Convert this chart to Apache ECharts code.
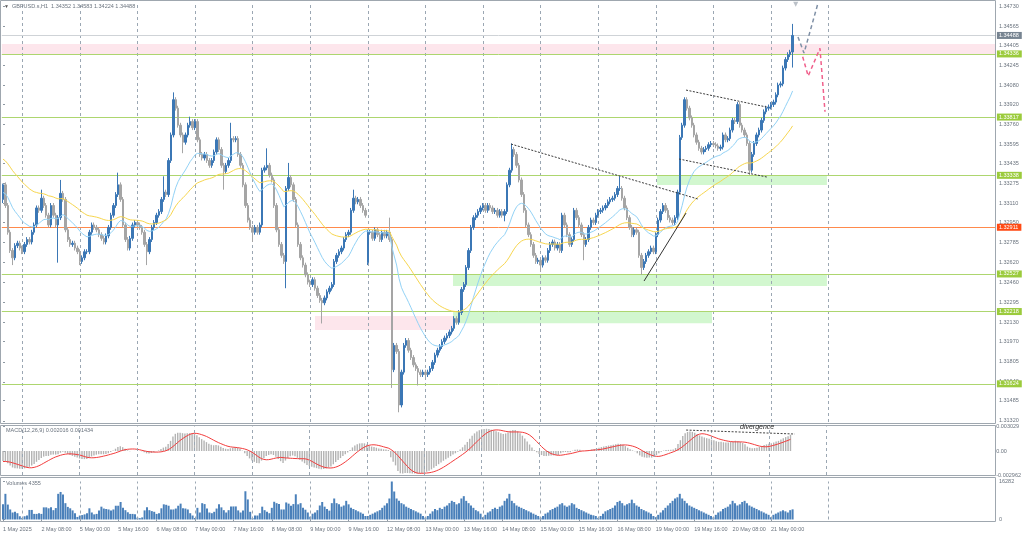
<!DOCTYPE html>
<html><head><meta charset="utf-8">
<script src="https://cdn.jsdelivr.net/npm/echarts@6/dist/echarts.min.js"></script>
<style>html,body{margin:0;padding:0;background:#fff}#c{width:1024px;height:537px}</style>
</head><body><div id="c"></div>
<script>
// ---------- DATA (GBPUSD.s H1, 1 May 16:00 .. 21 May 09:00) ----------
const opens = [1.3314,1.3326,1.3309,1.3287,1.3272,1.3266,1.3276,1.3278,1.3274,1.3271,
1.3277,1.3281,1.3279,1.3287,1.3293,1.3307,1.3305,1.3315,1.3309,1.3301,
1.3293,1.3309,1.3301,1.3293,1.3299,1.3319,1.3314,1.3289,1.3281,1.3277,
1.3278,1.3274,1.3271,1.3263,1.3266,1.3271,1.3271,1.3287,1.3293,1.3291,
1.3289,1.3285,1.3282,1.3279,1.3284,1.3291,1.3301,1.3309,1.3318,1.3326,
1.3314,1.3293,1.3281,1.3274,1.3282,1.3293,1.3295,1.3293,1.3291,1.3287,
1.3277,1.3271,1.3281,1.3291,1.3295,1.3301,1.3304,1.3314,1.3320,1.3318,
1.3346,1.3367,1.3396,1.3389,1.3375,1.3367,1.3361,1.3367,1.3375,1.3378,
1.3373,1.3378,1.3363,1.3351,1.3348,1.3351,1.3346,1.3342,1.3346,1.3353,
1.3363,1.3355,1.3342,1.3337,1.3342,1.3346,1.3364,1.3363,1.3364,1.3351,
1.3342,1.3326,1.3309,1.3297,1.3291,1.3287,1.3291,1.3287,1.3293,1.3338,
1.3340,1.3342,1.3334,1.3330,1.3309,1.3289,1.3277,1.3268,1.3263,1.3323,
1.3332,1.3326,1.3314,1.3293,1.3277,1.3266,1.3260,1.3252,1.3246,1.3244,
1.3248,1.3241,1.3235,1.3231,1.3229,1.3233,1.3238,1.3241,1.3244,1.3263,
1.3268,1.3271,1.3274,1.3281,1.3285,1.3287,1.3305,1.3315,1.3312,1.3314,
1.3309,1.3305,1.3262,1.3287,1.3287,1.3282,1.3289,1.3285,1.3281,1.3287,
1.3284,1.3287,1.3281,1.3174,1.3194,1.3189,1.3145,1.3172,1.3194,1.3198,
1.3190,1.3184,1.3178,1.3175,1.3172,1.3170,1.3172,1.3170,1.3172,1.3175,
1.3180,1.3186,1.3190,1.3193,1.3197,1.3200,1.3202,1.3205,1.3208,1.3216,
1.3213,1.3221,1.3240,1.3244,1.3258,1.3272,1.3291,1.3299,1.3301,1.3304,
1.3307,1.3309,1.3305,1.3309,1.3307,1.3304,1.3305,1.3301,1.3304,1.3301,
1.3304,1.3326,1.3338,1.3355,1.3351,1.3342,1.3330,1.3318,1.3305,1.3293,
1.3285,1.3277,1.3268,1.3263,1.3264,1.3260,1.3266,1.3264,1.3272,1.3277,
1.3279,1.3274,1.3277,1.3272,1.3301,1.3293,1.3285,1.3277,1.3281,1.3305,
1.3299,1.3293,1.3285,1.3277,1.3281,1.3291,1.3297,1.3295,1.3301,1.3304,
1.3305,1.3307,1.3309,1.3312,1.3314,1.3315,1.3318,1.3323,1.3323,1.3315,
1.3307,1.3299,1.3291,1.3285,1.3289,1.3287,1.3268,1.3258,1.3263,1.3268,
1.3271,1.3274,1.3271,1.3285,1.3297,1.3304,1.3309,1.3305,1.3299,1.3297,
1.3295,1.3299,1.3320,1.3365,1.3375,1.3396,1.3389,1.3381,1.3375,1.3367,
1.3361,1.3356,1.3353,1.3355,1.3356,1.3359,1.3360,1.3359,1.3358,1.3356,
1.3357,1.3367,1.3363,1.3364,1.3371,1.3379,1.3378,1.3392,1.3375,1.3371,
1.3367,1.3360,1.3338,1.3351,1.3360,1.3367,1.3371,1.3379,1.3386,1.3389,
1.3390,1.3392,1.3394,1.3400,1.3408,1.3409,1.3422,1.3429,1.3433,1.34352];

const closes = [1.3326,1.3309,1.3287,1.3272,1.3266,1.3276,1.3278,1.3274,1.3271,1.3277,
1.3281,1.3279,1.3287,1.3293,1.3307,1.3305,1.3315,1.3309,1.3301,1.3293,
1.3309,1.3301,1.3293,1.3299,1.3319,1.3314,1.3289,1.3281,1.3277,1.3278,
1.3274,1.3271,1.3263,1.3266,1.3271,1.3271,1.3287,1.3293,1.3291,1.3289,
1.3285,1.3282,1.3279,1.3284,1.3291,1.3301,1.3309,1.3318,1.3326,1.3314,
1.3293,1.3281,1.3274,1.3282,1.3293,1.3295,1.3293,1.3291,1.3287,1.3277,
1.3271,1.3281,1.3291,1.3295,1.3301,1.3304,1.3314,1.3320,1.3318,1.3346,
1.3367,1.3396,1.3389,1.3375,1.3367,1.3361,1.3367,1.3375,1.3378,1.3373,
1.3378,1.3363,1.3351,1.3348,1.3351,1.3346,1.3342,1.3346,1.3353,1.3363,
1.3355,1.3342,1.3337,1.3342,1.3346,1.3364,1.3363,1.3364,1.3351,1.3342,
1.3326,1.3309,1.3297,1.3291,1.3287,1.3291,1.3287,1.3293,1.3338,1.3340,
1.3342,1.3334,1.3330,1.3309,1.3289,1.3277,1.3268,1.3263,1.3323,1.3332,
1.3326,1.3314,1.3293,1.3277,1.3266,1.3260,1.3252,1.3246,1.3244,1.3248,
1.3241,1.3235,1.3231,1.3229,1.3233,1.3238,1.3241,1.3244,1.3263,1.3268,
1.3271,1.3274,1.3281,1.3285,1.3287,1.3305,1.3315,1.3312,1.3314,1.3309,
1.3305,1.3301,1.3287,1.3287,1.3282,1.3289,1.3285,1.3281,1.3287,1.3284,
1.3287,1.3281,1.3174,1.3194,1.3189,1.3145,1.3172,1.3194,1.3198,1.3190,
1.3184,1.3178,1.3175,1.3172,1.3170,1.3172,1.3170,1.3172,1.3175,1.3180,
1.3186,1.3190,1.3193,1.3197,1.3200,1.3202,1.3205,1.3208,1.3216,1.3213,
1.3221,1.3240,1.3244,1.3258,1.3272,1.3291,1.3299,1.3301,1.3304,1.3307,
1.3309,1.3305,1.3309,1.3307,1.3304,1.3305,1.3301,1.3304,1.3301,1.3304,
1.3326,1.3338,1.3355,1.3351,1.3342,1.3330,1.3318,1.3305,1.3293,1.3285,
1.3277,1.3268,1.3263,1.3264,1.3260,1.3266,1.3264,1.3272,1.3277,1.3279,
1.3274,1.3277,1.3272,1.3301,1.3293,1.3285,1.3277,1.3281,1.3305,1.3299,
1.3293,1.3285,1.3277,1.3281,1.3291,1.3297,1.3295,1.3301,1.3304,1.3305,
1.3307,1.3309,1.3312,1.3314,1.3315,1.3318,1.3323,1.3323,1.3315,1.3307,
1.3299,1.3291,1.3285,1.3289,1.3287,1.3268,1.3258,1.3263,1.3268,1.3271,
1.3274,1.3271,1.3285,1.3297,1.3304,1.3309,1.3305,1.3299,1.3297,1.3295,
1.3299,1.3320,1.3365,1.3375,1.3396,1.3389,1.3381,1.3375,1.3367,1.3361,
1.3356,1.3353,1.3355,1.3356,1.3359,1.3360,1.3359,1.3358,1.3356,1.3357,
1.3367,1.3363,1.3364,1.3371,1.3379,1.3378,1.3392,1.3375,1.3371,1.3367,
1.3360,1.3338,1.3351,1.3360,1.3367,1.3371,1.3379,1.3386,1.3389,1.3390,
1.3392,1.3394,1.3400,1.3408,1.3409,1.3422,1.3429,1.3433,1.34352,1.34488];

const highs = [1.3327,1.3328,1.3311,1.3289,1.3274,1.3278,1.3280,1.3280,1.3276,1.3279,
1.3283,1.3283,1.3289,1.3295,1.3309,1.3309,1.3322,1.3317,1.3311,1.3303,
1.3311,1.3311,1.3303,1.3301,1.3330,1.3321,1.3316,1.3291,1.3283,1.3280,
1.3280,1.3276,1.3273,1.3268,1.3273,1.3273,1.3289,1.3295,1.3295,1.3293,
1.3291,1.3287,1.3284,1.3286,1.3293,1.3303,1.3311,1.3320,1.3336,1.3328,
1.3316,1.3295,1.3283,1.3284,1.3295,1.3297,1.3297,1.3295,1.3293,1.3289,
1.3279,1.3283,1.3293,1.3297,1.3303,1.3306,1.3316,1.3333,1.3322,1.3348,
1.3369,1.3402,1.3398,1.3391,1.3377,1.3369,1.3369,1.3377,1.3382,1.3380,
1.3380,1.3380,1.3365,1.3353,1.3353,1.3353,1.3348,1.3348,1.3355,1.3365,
1.3365,1.3357,1.3344,1.3344,1.3348,1.3377,1.3366,1.3366,1.3366,1.3353,
1.3344,1.3328,1.3311,1.3299,1.3293,1.3293,1.3293,1.3295,1.3340,1.3342,
1.3356,1.3344,1.3336,1.3332,1.3311,1.3291,1.3279,1.3270,1.3325,1.3344,
1.3334,1.3328,1.3316,1.3295,1.3279,1.3268,1.3262,1.3254,1.3248,1.3250,
1.3250,1.3243,1.3237,1.3233,1.3235,1.3240,1.3243,1.3246,1.3265,1.3270,
1.3273,1.3276,1.3283,1.3287,1.3289,1.3307,1.3322,1.3317,1.3316,1.3316,
1.3311,1.3307,1.3289,1.3289,1.3289,1.3291,1.3291,1.3287,1.3289,1.3289,
1.3289,1.3299,1.3283,1.3196,1.3196,1.3191,1.3174,1.3196,1.3200,1.3200,
1.3192,1.3186,1.3180,1.3177,1.3174,1.3174,1.3174,1.3174,1.3177,1.3182,
1.3188,1.3192,1.3195,1.3199,1.3202,1.3204,1.3207,1.3210,1.3218,1.3218,
1.3223,1.3242,1.3246,1.3260,1.3274,1.3293,1.3301,1.3303,1.3306,1.3309,
1.3311,1.3311,1.3311,1.3311,1.3309,1.3307,1.3307,1.3306,1.3306,1.3306,
1.3328,1.3340,1.3360,1.3357,1.3353,1.3344,1.3332,1.3320,1.3307,1.3295,
1.3287,1.3279,1.3270,1.3266,1.3266,1.3268,1.3268,1.3274,1.3279,1.3281,
1.3281,1.3279,1.3279,1.3303,1.3303,1.3295,1.3287,1.3283,1.3307,1.3307,
1.3301,1.3295,1.3287,1.3283,1.3293,1.3299,1.3299,1.3303,1.3306,1.3307,
1.3309,1.3311,1.3314,1.3316,1.3317,1.3320,1.3325,1.3333,1.3325,1.3317,
1.3309,1.3301,1.3293,1.3291,1.3291,1.3289,1.3270,1.3265,1.3270,1.3273,
1.3276,1.3276,1.3287,1.3299,1.3306,1.3311,1.3311,1.3307,1.3301,1.3299,
1.3301,1.3322,1.3367,1.3377,1.3398,1.3398,1.3391,1.3383,1.3377,1.3369,
1.3363,1.3358,1.3357,1.3358,1.3361,1.3362,1.3362,1.3361,1.3360,1.3359,
1.3369,1.3369,1.3366,1.3373,1.3381,1.3381,1.3394,1.3394,1.3377,1.3373,
1.3369,1.3362,1.3353,1.3362,1.3369,1.3373,1.3381,1.3388,1.3391,1.3392,
1.3394,1.3396,1.3402,1.3410,1.3411,1.3424,1.3431,1.3435,1.3437,1.34583];

const lows = [1.3311,1.3307,1.3285,1.3270,1.3260,1.3264,1.3274,1.3272,1.3269,1.3269,
1.3275,1.3277,1.3277,1.3285,1.3291,1.3303,1.3303,1.3307,1.3299,1.3291,
1.3291,1.3299,1.3291,1.3262,1.3297,1.3312,1.3287,1.3279,1.3275,1.3275,
1.3272,1.3269,1.3260,1.3261,1.3264,1.3269,1.3269,1.3285,1.3289,1.3287,
1.3283,1.3280,1.3277,1.3277,1.3282,1.3289,1.3299,1.3307,1.3316,1.3312,
1.3291,1.3279,1.3272,1.3272,1.3280,1.3291,1.3291,1.3289,1.3285,1.3275,
1.3260,1.3269,1.3279,1.3289,1.3293,1.3299,1.3302,1.3312,1.3316,1.3316,
1.3344,1.3365,1.3387,1.3373,1.3365,1.3352,1.3359,1.3365,1.3373,1.3371,
1.3371,1.3361,1.3349,1.3346,1.3346,1.3344,1.3340,1.3340,1.3344,1.3351,
1.3353,1.3340,1.3322,1.3335,1.3340,1.3344,1.3361,1.3361,1.3349,1.3340,
1.3324,1.3307,1.3295,1.3289,1.3279,1.3285,1.3285,1.3285,1.3291,1.3336,
1.3338,1.3332,1.3328,1.3307,1.3287,1.3275,1.3266,1.3261,1.3241,1.3321,
1.3324,1.3312,1.3291,1.3275,1.3264,1.3258,1.3250,1.3244,1.3242,1.3242,
1.3239,1.3233,1.3229,1.3212,1.3227,1.3231,1.3236,1.3239,1.3242,1.3261,
1.3266,1.3269,1.3272,1.3279,1.3283,1.3285,1.3303,1.3310,1.3310,1.3307,
1.3303,1.3299,1.3260,1.3285,1.3280,1.3280,1.3283,1.3279,1.3279,1.3282,
1.3282,1.3279,1.3159,1.3172,1.3187,1.3139,1.3143,1.3170,1.3192,1.3188,
1.3182,1.3176,1.3173,1.3161,1.3168,1.3168,1.3168,1.3168,1.3170,1.3173,
1.3178,1.3184,1.3188,1.3191,1.3195,1.3198,1.3200,1.3203,1.3206,1.3211,
1.3211,1.3219,1.3238,1.3242,1.3256,1.3270,1.3289,1.3297,1.3299,1.3302,
1.3305,1.3303,1.3303,1.3305,1.3302,1.3302,1.3299,1.3299,1.3299,1.3296,
1.3302,1.3324,1.3336,1.3349,1.3340,1.3328,1.3316,1.3303,1.3291,1.3283,
1.3275,1.3266,1.3261,1.3261,1.3255,1.3258,1.3262,1.3262,1.3270,1.3275,
1.3272,1.3272,1.3270,1.3270,1.3291,1.3283,1.3275,1.3275,1.3279,1.3297,
1.3291,1.3283,1.3264,1.3275,1.3279,1.3289,1.3293,1.3293,1.3299,1.3302,
1.3303,1.3305,1.3307,1.3310,1.3312,1.3313,1.3316,1.3321,1.3313,1.3305,
1.3297,1.3289,1.3283,1.3283,1.3285,1.3266,1.3252,1.3256,1.3261,1.3266,
1.3269,1.3269,1.3269,1.3283,1.3295,1.3302,1.3303,1.3297,1.3295,1.3293,
1.3293,1.3297,1.3318,1.3363,1.3373,1.3387,1.3379,1.3373,1.3365,1.3359,
1.3354,1.3351,1.3351,1.3353,1.3354,1.3357,1.3357,1.3356,1.3354,1.3354,
1.3355,1.3361,1.3361,1.3362,1.3369,1.3376,1.3376,1.3373,1.3369,1.3365,
1.3358,1.3334,1.3336,1.3349,1.3358,1.3365,1.3369,1.3377,1.3384,1.3387,
1.3388,1.3390,1.3392,1.3398,1.3406,1.3407,1.3420,1.3427,1.3431,1.34224];

const volumes = [6500,11000,6400,4300,3000,3300,2700,1400,700,1400,1700,4100,4100,2400,2400,2700,2400,5200,5200,4800,5200,4000,4900,11000,11800,10700,7000,5400,4800,3900,2700,1100,1700,
1900,2200,2700,4800,3000,2200,2400,3900,5500,4700,4500,4300,3900,4300,5900,5900,7500,5000,4000,3100,2400,2400,2200,800,600,900,3900,5200,4000,3600,3300,2400,2700,4800,6500,6300,5900,4300,4300,4700,5900,6800,4800,4700,4300,2700,1700,600,
5000,3000,7000,6600,4700,3000,2700,3300,4700,6500,5200,4000,3000,4000,5600,5600,5600,3900,3000,3900,12100,8600,3300,600,
1700,1700,2700,5500,4000,3300,2700,5000,7600,7000,6600,4300,4300,7300,6800,5900,6600,10800,6500,
7000,5000,4200,3000,1200,
2500,3000,4000,6000,7500,5500,4500,3800,7000,9000,7000,6500,5500,6000,8000,6500,5000,4500,4000,3500,3000,2500,1500,
1500,2000,2500,3000,3500,4000,5000,6000,7000,9000,16282,12000,9000,8000,7000,6500,5500,5000,4500,4000,3500,3000,2500,1500,
800,1500,2500,3500,4500,4000,5000,4500,5500,6000,7000,8000,7500,6500,7000,9000,10000,8000,7000,6000,5000,4000,3500,2500,
1000,2000,3000,3500,4500,5000,4500,5500,6000,8000,9000,11000,8000,7000,6000,5500,5000,4500,4000,3500,3000,2500,2000,1500,
800,1500,2500,3000,4000,4500,5000,5500,6500,7000,6000,5500,6000,7000,6500,5000,4500,4000,3500,3000,2500,2000,1800,1500,
700,1500,2500,3500,4000,4500,5000,6000,7500,8000,7000,6000,6500,7000,8500,7000,6000,5500,4500,4000,3500,3000,2500,1500,
1000,2000,3000,4000,5000,6000,7000,8000,9000,9500,11000,9000,8000,7000,6000,5500,5000,4500,4000,3500,3000,2500,2000,1500,
900,2000,3000,3500,4500,5000,5500,6500,8000,7000,6000,6500,7500,8000,7000,6000,5500,5000,4500,4000,3500,3000,2500,2000,
1000,2000,2500,3000,3500,4000,3500,3000,4000,4355];

const timeLabels = ['1 May 2025','2 May 08:00','5 May 00:00','5 May 16:00','6 May 08:00','7 May 00:00','7 May 16:00','8 May 08:00','9 May 00:00','9 May 16:00','12 May 08:00','13 May 00:00','13 May 16:00','14 May 08:00','15 May 00:00','15 May 16:00','16 May 08:00','19 May 00:00','19 May 16:00','20 May 08:00','21 May 00:00'];
const priceTicks = [1.34730,1.34565,1.34405,1.34245,1.34080,1.33920,1.33760,1.33595,1.33435,1.33275,1.33110,1.32950,1.32785,1.32620,1.32460,1.32295,1.32130,1.31970,1.31805,1.31640,1.31485,1.31320];
const macdTicks = [0.003029, 0, -0.002962];
const volumeTicks = [0, 16282];
const greenLevels = [1.34336,1.33817,1.33338,1.32527,1.32218,1.31624];
const orangeLevels = [1.32911];
const lastPrice = 1.34488;
// indicator seeds (values of the averages before the first visible bar)
const maSeeds = {ema20: 1.3319, ema50: 1.3348};
const macdSeeds = {fast: 1.3330, slow: 1.3343, signal: -0.0013};
// annotation zones: [barFrom, barTo, priceA, priceB]
const pinkZones = [[-0.5,413.5,1.34418,1.34336],[130,187.5,1.32182,1.32066]];
const greenZones = [[187.5,343.3,1.32527,1.32428],[187.5,295.4,1.32218,1.32121],[272.5,343.3,1.33338,1.33258]];
// trend lines [[bar, price], ...]
const dottedLines = [[[211.7,1.33595],[289.6,1.33143]],[[284.6,1.34039],[318.3,1.33899]],[[281.7,1.33472],[318.3,1.33324]]];
const solidLines = [[[267.1,1.32469],[284.6,1.33028]]];
const forecastGray = [[331.25,1.34475],[333.75,1.34343],[339.6,1.34755]];
const forecastPink = [[333.2,1.34313],[335.5,1.34154],[340.4,1.34382],[342.5,1.33861]];
const divergenceLine = [[285.4,0.00259],[330.8,0.0021]];

// ---------- BUILD ----------
const FONT = '"Liberation Sans", Arial, sans-serif';
const FS = 5.5, TXT = '#6a737e';
const N = 414;
const cats = Array.from({length: N}, (_, i) => String(i));
const candleData = closes.map((c, i) => [opens[i], c, lows[i], highs[i]]);
function ema(src, period, seed) { const k = 2 / (period + 1); let e = seed; return src.map(v => (e = e + k * (v - e))); }
const ema20 = ema(closes, 20, maSeeds.ema20);
const ema50 = ema(closes, 50, maSeeds.ema50);
const f12 = ema(closes, 12, macdSeeds.fast), s26 = ema(closes, 26, macdSeeds.slow);
const macdMain = f12.map((v, i) => v - s26[i]);
const macdSignal = macdMain.map((_, i) => { let s = 0; for (let k = i - 8; k <= i; k++) s += k >= 0 ? macdMain[k] : macdSeeds.signal; return s / 9; });
const dayLines = []; for (let i = 8; i <= 344; i += 24) dayLines.push({xAxis: i});
const gridLineStyle = {color: '#9ba7b3', type: [3, 3], width: 1};
const vGrid = {silent: true, symbol: ['none', 'none'], label: {show: false}, lineStyle: gridLineStyle, data: dayLines};

const levelData = greenLevels.map(v => ({yAxis: v, lineStyle: {color: '#add66f'}, label: {backgroundColor: '#9bcb3c'}}))
  .concat(orangeLevels.map(v => ({yAxis: v, lineStyle: {color: '#ff8a4c'}, label: {backgroundColor: '#ff4a14'}})))
  .concat([{yAxis: lastPrice, lineStyle: {color: '#cfd3d7'}, label: {backgroundColor: '#778491'}}]);

const zoneData = pinkZones.map(z => [{coord: [z[0], z[2]], itemStyle: {color: '#fde6ec'}}, {coord: [z[1], z[3]]}])
  .concat(greenZones.map(z => [{coord: [z[0], z[2]], itemStyle: {color: '#d2f7cf'}}, {coord: [z[1], z[3]]}]));

const series = [
  {type: 'line', xAxisIndex: 1, yAxisIndex: 0, data: dottedLines[0], symbol: 'none', silent: true, z: 5,
   lineStyle: {color: '#3a3a3a', width: 1, type: [2, 1.5]},
   markArea: {silent: true, data: zoneData, z: 1}, markLine: Object.assign({z: 1}, vGrid)},
  {type: 'line', xAxisIndex: 1, yAxisIndex: 0, data: dottedLines[1], symbol: 'none', silent: true, z: 5, lineStyle: {color: '#3a3a3a', width: 1, type: [2, 1.5]}},
  {type: 'line', xAxisIndex: 1, yAxisIndex: 0, data: dottedLines[2], symbol: 'none', silent: true, z: 5, lineStyle: {color: '#3a3a3a', width: 1, type: [2, 1.5]}},
  {type: 'line', xAxisIndex: 1, yAxisIndex: 0, data: solidLines[0], symbol: 'none', silent: true, z: 5, lineStyle: {color: '#333', width: 1}},
  {type: 'line', xAxisIndex: 1, yAxisIndex: 0, data: forecastGray, symbol: 'none', silent: true, z: 5, lineStyle: {color: '#7f90a6', width: 1.5, type: [4, 3]}},
  {type: 'line', xAxisIndex: 1, yAxisIndex: 0, data: forecastPink, symbol: 'none', silent: true, z: 5, lineStyle: {color: '#f0608c', width: 1.5, type: [4, 3]}},
  {type: 'scatter', xAxisIndex: 1, yAxisIndex: 0, data: [[330.3, 1.34745]], symbol: 'triangle', symbolRotate: 180, symbolSize: 5, silent: true, itemStyle: {color: '#aab2ba'}},
  {type: 'candlestick', xAxisIndex: 0, yAxisIndex: 0, data: candleData, barWidth: 2, z: 3,
   itemStyle: {color: '#3b77b5', color0: '#a5a5a5', borderColor: '#3b77b5', borderColor0: '#a5a5a5', borderWidth: 1},
   markLine: {silent: true, precision: 5, symbol: ['none', 'none'], z: 2, lineStyle: {type: 'solid', width: 1},
     label: {show: true, position: 'end', distance: 1.5, formatter: p => Number(p.value).toFixed(5), color: '#fff', fontSize: FS, fontFamily: FONT, padding: [1, 3, 0, 2], lineHeight: 6},
     data: levelData}},
  {type: 'line', xAxisIndex: 0, yAxisIndex: 0, data: ema20, symbol: 'none', silent: true, z: 4, lineStyle: {color: '#92d2f6', width: 1}},
  {type: 'line', xAxisIndex: 0, yAxisIndex: 0, data: ema50, symbol: 'none', silent: true, z: 4, lineStyle: {color: '#f7d64e', width: 1}},
  // MACD
  {type: 'bar', xAxisIndex: 2, yAxisIndex: 1, data: macdMain, barWidth: 1.4, silent: true, itemStyle: {color: '#b3b3b3'}},
  {type: 'line', xAxisIndex: 2, yAxisIndex: 1, data: macdSignal, symbol: 'none', silent: true, lineStyle: {color: '#f23c3c', width: 1}},
  {type: 'line', xAxisIndex: 3, yAxisIndex: 1, data: divergenceLine, symbol: 'none', silent: true, z: 5,
   lineStyle: {color: '#444', width: 1, type: [2, 1.5]}, markLine: vGrid},
  // Volumes
  {type: 'bar', xAxisIndex: 4, yAxisIndex: 2, data: volumes, barWidth: 2, silent: true, itemStyle: {color: '#4a80ba'}},
  {type: 'line', xAxisIndex: 5, yAxisIndex: 2, data: [[-0.5, 0]], symbol: 'none', silent: true, markLine: vGrid}
];

const hiddenCat = (g) => ({type: 'category', gridIndex: g, data: cats, boundaryGap: true, axisLine: {show: false}, axisTick: {show: false}, axisLabel: {show: false}, splitLine: {show: false}});
const hiddenVal = (g) => ({type: 'value', gridIndex: g, min: -0.5, max: N - 0.5, show: false, splitLine: {show: false}});
const showTick = (i) => i % 16 === 0 && i <= 320;
const volX = hiddenCat(2);
volX.axisTick = {show: true, alignWithLabel: true, interval: showTick, length: 2, lineStyle: {color: '#8e98a2'}};
volX.axisLabel = {show: true, interval: showTick, formatter: (v, i) => timeLabels[i / 16], align: 'left', fontSize: FS, fontFamily: FONT, color: TXT, margin: 6.5};

const rightY = (g, min, max, ticks, fmt) => ({type: 'value', gridIndex: g, position: 'right', min: min, max: max,
  axisLine: {show: false}, splitLine: {show: false},
  axisTick: {show: true, customValues: ticks, length: 2, lineStyle: {color: '#8e98a2'}},
  axisLabel: {customValues: ticks, formatter: fmt, fontSize: FS, fontFamily: FONT, color: TXT, margin: 3.5}});

const frame = (y, h) => ({type: 'rect', shape: {x: 0.5, y: y, width: 995, height: h}, style: {fill: null, stroke: '#9fa7af', lineWidth: 1}, silent: true, z: 10});
const txt = (x, y, t, extra) => ({type: 'text', x: x, y: y, style: Object.assign({text: t, fontSize: FS, fontFamily: FONT, fill: TXT, verticalAlign: 'middle'}, extra || {}), silent: true, z: 11});

const option = {
  animation: false,
  backgroundColor: '#ffffff',
  grid: [
    {left: 1.8, top: 2, width: 993.6, height: 420},
    {left: 1.8, top: 426.5, width: 993.6, height: 48.5},
    {left: 1.8, top: 481.5, width: 993.6, height: 38}
  ],
  xAxis: [hiddenCat(0), hiddenVal(0), hiddenCat(1), hiddenVal(1), volX, hiddenVal(2)],
  yAxis: [
    rightY(0, 1.31310, 1.34763, priceTicks, v => v.toFixed(5)),
    rightY(1, -0.002962, 0.003029, macdTicks, v => v === 0 ? '0.00' : v.toFixed(6)),
    rightY(2, 0, 16282, volumeTicks, v => String(v))
  ],
  series: series,
  graphic: [
    frame(0.5, 423), frame(425.5, 50), frame(477.5, 44),
    txt(4, 6.5, '▼', {fill: '#555', fontSize: 5}),
    txt(12, 6.5, 'GBPUSD.s,H1  1.34352 1.34583 1.34224 1.34488'),
    txt(6, 430.5, 'MACD(12,26,9) 0.002016 0.001434'),
    txt(6, 483.5, 'Volumes 4355'),
    txt(740, 427.5, 'divergence', {fontSize: 7, fontStyle: 'italic', fill: '#222'})
  ]
};
const chart = echarts.init(document.getElementById('c'), null, {renderer: 'canvas'});
chart.setOption(option);
</script>
</body></html>
